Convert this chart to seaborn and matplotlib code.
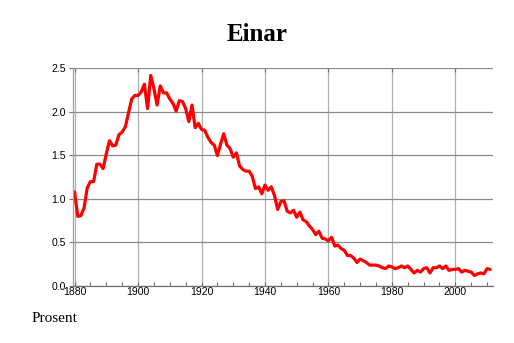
import matplotlib
matplotlib.use("Agg")
import matplotlib.pyplot as plt
from matplotlib.ticker import MultipleLocator
import numpy as np
import pandas as pd
import seaborn as sns

title = "Einar"
ylabel_text = "Prosent"
start_year = 1880
values = [
    1.08, 0.80, 0.81, 0.90, 1.13, 1.20, 1.20, 1.40, 1.40, 1.35,   # 1880-1889
    1.52, 1.67, 1.61, 1.62, 1.74, 1.77, 1.83, 1.99, 2.15, 2.19,   # 1890-1899
    2.19, 2.23, 2.32, 2.04, 2.42, 2.27, 2.08, 2.30, 2.22, 2.22,   # 1900-1909
    2.15, 2.10, 2.01, 2.13, 2.12, 2.04, 1.89, 2.08, 1.82, 1.87,   # 1910-1919
    1.80, 1.79, 1.71, 1.65, 1.62, 1.50, 1.63, 1.75, 1.62, 1.58,   # 1920-1929
    1.48, 1.53, 1.38, 1.34, 1.32, 1.32, 1.26, 1.12, 1.14, 1.06,   # 1930-1939
    1.16, 1.10, 1.14, 1.04, 0.88, 0.97, 0.98, 0.86, 0.84, 0.87,   # 1940-1949
    0.79, 0.85, 0.76, 0.74, 0.69, 0.65, 0.59, 0.63, 0.55, 0.54,   # 1950-1959
    0.52, 0.56, 0.46, 0.47, 0.43, 0.41, 0.35, 0.35, 0.32, 0.27,   # 1960-1969
    0.31, 0.29, 0.27, 0.24, 0.24, 0.24, 0.23, 0.21, 0.20, 0.23,   # 1970-1979
    0.22, 0.20, 0.21, 0.23, 0.21, 0.23, 0.19, 0.15, 0.18, 0.16,   # 1980-1989
    0.20, 0.21, 0.15, 0.21, 0.21, 0.23, 0.20, 0.23, 0.18, 0.19,   # 1990-1999
    0.19, 0.20, 0.16, 0.18, 0.17, 0.16, 0.12, 0.14, 0.15, 0.14,   # 2000-2009
    0.20, 0.19,                                                   # 2010-2011
]
years = list(range(start_year, start_year + len(values)))
df = pd.DataFrame({"year": years, "value": values})

sns.set_style("white")
plt.rcParams["font.family"] = ["Liberation Sans", "DejaVu Sans"]
plt.rcParams["text.color"] = "black"
plt.rcParams["xtick.color"] = "#707070"
plt.rcParams["ytick.color"] = "#707070"
plt.rcParams["xtick.labelcolor"] = "black"
plt.rcParams["ytick.labelcolor"] = "black"

fig = plt.figure(figsize=(5.14, 3.43), dpi=100)
ax = fig.add_axes([0.1414, 0.1662, 0.8186, 0.6341])

sns.lineplot(data=df, x="year", y="value", color="#ff0000", linewidth=2.3, ax=ax)

ax.set_xlim(1879.4, 2012)
ax.set_ylim(0, 2.5)
ax.xaxis.set_major_locator(MultipleLocator(20))
ax.xaxis.set_minor_locator(MultipleLocator(5))
ax.yaxis.set_major_locator(MultipleLocator(0.5))
ax.set_yticklabels([f"{v:.1f}" for v in ax.get_yticks()])

ax.grid(axis="y", which="major", color="#8a8a8a", linewidth=0.9)
ax.grid(axis="x", which="major", color="#b0b0b0", linewidth=0.9)
ax.set_axisbelow(True)

for s in ["right", "top"]:
    ax.spines[s].set_visible(False)
ax.spines["left"].set_color("#a0a0a0")
ax.spines["left"].set_linewidth(0.9)
ax.spines["bottom"].set_color("#707070")
ax.spines["bottom"].set_linewidth(0.9)

ax.tick_params(axis="y", which="major", direction="out", length=3, width=0.8,
               color="#707070", labelcolor="black", labelsize=7.5, pad=2, left=True)
ax.tick_params(axis="x", which="major", direction="in", length=3, width=0.8,
               color="#707070", labelcolor="black", labelsize=7.5, pad=1,
               bottom=True, top=True)
ax.tick_params(axis="x", which="minor", direction="in", length=3, width=0.8,
               color="#707070", bottom=True, top=False)

ax.set_xlabel("")
ax.set_ylabel("")

fig.text(0.5, 0.90, title, ha="center", va="center", fontsize=18,
         fontweight="bold", color="black",
         family=["Liberation Serif", "DejaVu Serif"])
fig.text(0.062, 0.07, ylabel_text, ha="left", va="center", fontsize=11,
         color="black", family=["Liberation Serif", "DejaVu Serif"])

fig.savefig("out.png", dpi=100)
